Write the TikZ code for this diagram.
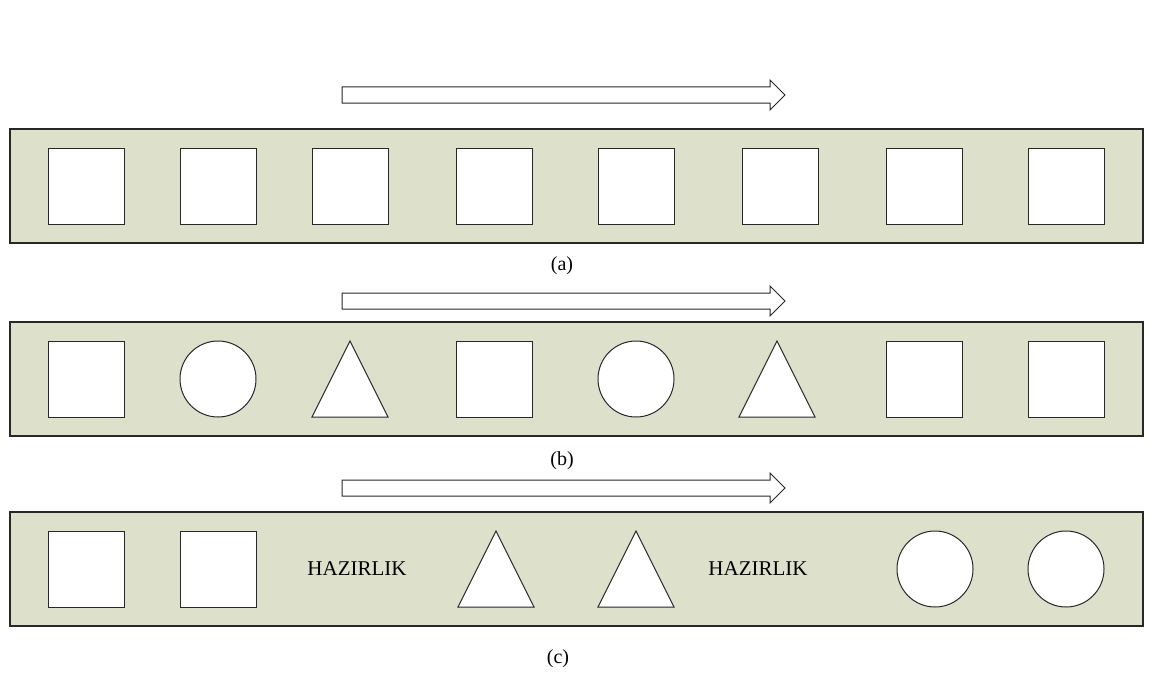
\documentclass[tikz,border=0pt]{standalone}
\usepackage{fontspec}
\setmainfont{Liberation Serif}
\definecolor{panelfill}{RGB}{221,224,203}
\definecolor{edge}{RGB}{40,40,40}
\begin{document}
\begin{tikzpicture}[x=0.5pt,y=-0.5pt]
    \tikzstyle{panel}=[draw=edge,fill=panelfill,line width=0.55pt,minimum width=566.5pt,minimum height=57pt,inner sep=0pt]
    \tikzstyle{sq}=[draw=edge,fill=white,line width=0.5pt,minimum size=38pt,inner sep=0pt]
    \tikzstyle{circ}=[draw=edge,fill=white,line width=0.5pt,circle,minimum size=38pt,inner sep=0pt]
    \tikzstyle{tri}=[draw=edge,fill=white,line width=0.5pt]
    \tikzstyle{blockarr}=[draw=edge,fill=white,line width=0.5pt]
    \tikzstyle{label}=[font=\fontsize{10.5}{12}\selectfont]
    \tikzstyle{caption}=[font=\fontsize{10}{12}\selectfont]
    \useasboundingbox (0,0) rectangle (1154,674);

    \foreach \y in {95,301,488}
        \draw[blockarr] (342,\y-8) -- (770,\y-8) -- (770,\y-15) -- (785,\y)
            -- (770,\y+15) -- (770,\y+8) -- (342,\y+8) -- cycle;

    \node[panel] (panela) at (576.5,186) {};
    \node[panel] (panelb) at (576.5,379) {};
    \node[panel] (panelc) at (576.5,569) {};

    % (a)
    \foreach \x [count=\i] in {86,218,350,494,636,780,924,1066}
        \node[sq] (a\i) at (\x,186) {};

    % (b)
    \node[sq] (b1) at (86,379) {};
    \node[circ] (b2) at (218,379) {};
    \draw[tri] (312,417) -- (350,341) -- (388,417) -- cycle;
    \node[sq] (b4) at (494,379) {};
    \node[circ] (b5) at (636,379) {};
    \draw[tri] (739,417) -- (777,341) -- (815,417) -- cycle;
    \node[sq] (b7) at (924,379) {};
    \node[sq] (b8) at (1066,379) {};

    % (c)
    \node[sq] (c1) at (86,569) {};
    \node[sq] (c2) at (218,569) {};
    \node[label] (c3) at (357,569) {HAZIRLIK};
    \draw[tri] (458,607) -- (496,531) -- (534,607) -- cycle;
    \draw[tri] (598,607) -- (636,531) -- (674,607) -- cycle;
    \node[label] (c6) at (758,569) {HAZIRLIK};
    \node[circ] (c7) at (935,569) {};
    \node[circ] (c8) at (1066,569) {};

    \node[caption] (capa) at (562,266) {(a)};
    \node[caption] (capb) at (562,461) {(b)};
    \node[caption] (capc) at (558,659) {(c)};
\end{tikzpicture}
\end{document}
